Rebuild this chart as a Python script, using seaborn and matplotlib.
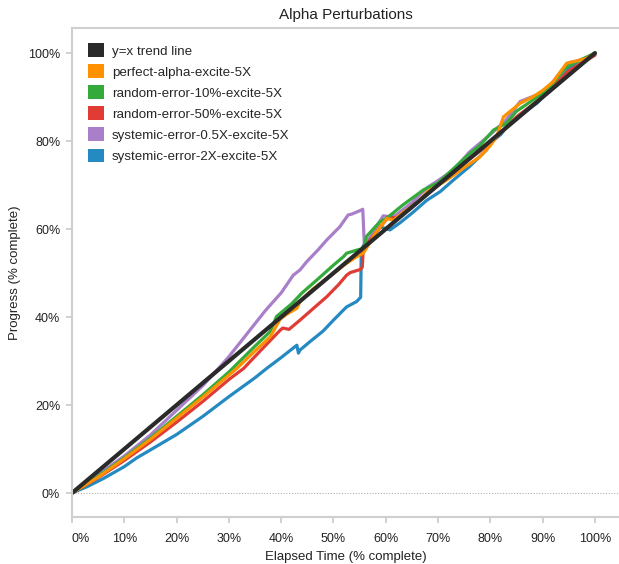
import pandas as pd
import seaborn as sns
import matplotlib.pyplot as plt
from matplotlib.patches import Patch

# Series (percent elapsed -> percent progress)
trend_x = [0, 100]
trend_y = [0, 100]

perfect_x = [0, 5, 10, 15, 20, 25, 30, 31.5, 35, 37.9, 39.8, 41, 43, 43.6, 46, 50, 52, 54.4,
             55.7, 57, 58, 60.2, 61.5, 63, 66, 68, 71.6, 75, 78, 80, 81.2, 82.5, 85.7, 88.2,
             90, 92, 94.6, 97.1, 98.4, 100]
perfect_y = [0, 3.6, 7.8, 12.2, 17.0, 21.8, 26.8, 28.3, 32.3, 35.5, 39.5, 40.6, 42.0, 43.5,
             46.3, 49.9, 51.8, 53.7, 54.5, 57, 59, 62.4, 62.0, 63.5, 66, 68.5, 71.1, 74, 76.4,
             79, 81, 85.5, 88.6, 90.1, 91.5, 93.5, 97.7, 98.4, 98.8, 99.9]

rand10_x = [0, 5, 10, 15, 20, 25, 30, 35, 37.9, 39.1, 42, 44, 46.8, 50, 51.9, 52.5, 54.4, 55.7,
            56.3, 58.9, 60, 63.3, 67.2, 70, 73, 76.1, 78, 80.6, 83, 85, 88, 91, 94.5, 97, 100]
rand10_y = [0, 3.8, 8.0, 12.5, 17.4, 22.3, 27.5, 33.4, 36.7, 40.1, 43, 45.5, 48.4, 51.8, 53.7,
            54.5, 55.2, 55.6, 58.3, 61.7, 62.3, 65.5, 68.9, 70.5, 73.8, 77.2, 79, 82.5, 84,
            86.8, 89.2, 91.8, 96.8, 98.3, 100]

rand50_x = [0, 5, 10, 15, 20, 25, 30, 32.8, 36, 39.8, 40.3, 41.5, 43.6, 46, 48.7, 51, 52.5,
            53.2, 55.1, 55.5, 55.7, 57, 59, 60.5, 62, 65, 70, 75, 80, 85, 90, 95, 100]
rand50_y = [0, 3.5, 7.4, 11.6, 16.1, 20.8, 25.8, 28.3, 32.3, 37.0, 37.5, 37.2, 39.3, 41.8,
            44.6, 47.4, 49.5, 50.1, 50.8, 51.3, 55.5, 57.5, 60.5, 62.8, 62.5, 65, 70, 75,
            79.5, 85.5, 90, 96, 99.5]

sys05_x = [0, 5, 10, 15, 20, 25, 28, 30, 34, 37, 40, 42.3, 43.6, 44.9, 47, 48.7, 51.2, 52.8,
           53.5, 55.1, 55.6, 55.9, 57, 58, 59.5, 60.8, 62, 65, 68, 70, 73, 76, 80, 83, 85.7,
           88.9, 91, 93, 95, 97, 98.5, 100]
sys05_y = [0, 4.2, 8.4, 13.2, 18.8, 24.4, 28.3, 31, 37, 41.5, 45.5, 49.5, 50.7, 52.6, 55.2,
           57.5, 60.5, 63.2, 63.4, 64.2, 64.5, 56.5, 58, 60, 63, 62.8, 63.2, 66, 69.5, 71,
           73.5, 77.5, 81.5, 84.8, 89, 90.5, 92, 95, 97.8, 98.3, 98.8, 99.8]

sys2_x = [0, 3, 6, 10, 12.4, 15, 20, 25, 30, 35, 37.2, 40, 43.0, 43.3, 43.6, 45.5, 48, 50,
          52.5, 54.4, 55.2, 55.3, 55.6, 57, 58.9, 60.8, 62.7, 65, 67.8, 70.4, 72.9, 76, 79.3,
          79.9, 82, 83.7, 86, 88.9, 91, 93, 95, 97, 100]
sys2_y = [0, 1.5, 3.3, 6.0, 8.0, 9.8, 13.3, 17.4, 21.9, 26.2, 28.3, 30.8, 33.6, 31.8, 32.5,
          34.4, 36.8, 39.3, 42.3, 43.5, 44.5, 53.7, 56.0, 58.0, 60.5, 59.8, 61.4, 63.6, 66.5,
          68.5, 71.1, 74.2, 78.0, 79.5, 81.5, 84.2, 86.2, 88.6, 91.2, 93.5, 96.5, 98.3, 99.7]

labels = ["y=x trend line", "perfect-alpha-excite-5X", "random-error-10%-excite-5X",
          "random-error-50%-excite-5X", "systemic-error-0.5X-excite-5X",
          "systemic-error-2X-excite-5X"]
colors = ["#2a2a2a", "#ff9100", "#33aa3a", "#e03c35", "#a87fc8", "#2589c2"]

series = [(labels[1], perfect_x, perfect_y), (labels[2], rand10_x, rand10_y),
          (labels[3], rand50_x, rand50_y), (labels[4], sys05_x, sys05_y),
          (labels[5], sys2_x, sys2_y)]
frames = []
for name, xs, ys in series:
    frames.append(pd.DataFrame({"elapsed": xs, "progress": ys, "series": name}))
df = pd.concat(frames, ignore_index=True)

sns.set_style("white")
plt.rcParams["font.family"] = ["Liberation Sans", "DejaVu Sans"]

fig = plt.figure(figsize=(6.19, 5.64), dpi=100)
ax = fig.add_axes([72 / 619, 47 / 564, 547 / 619, 489 / 564])

ax.axhline(0, color="#b0b0b0", linestyle=(0, (1, 1.5)), linewidth=0.8, zorder=1)

draw_order = labels[5:0:-1]
sns.lineplot(data=df, x="elapsed", y="progress", hue="series", hue_order=draw_order,
             palette=dict(zip(labels, colors)), sort=False, estimator=None,
             linewidth=2.3, legend=False, ax=ax)
sns.lineplot(x=trend_x, y=trend_y, color=colors[0], linewidth=3.0, ax=ax)

ax.set_xlim(0, 104.6)
ax.set_ylim(-5.45, 105.7)
ax.set_xticks(range(0, 101, 10))
ax.set_xticklabels([f"{v}%" for v in range(0, 101, 10)])
ax.set_yticks(range(0, 101, 20))
ax.set_yticklabels([f"{v}%" for v in range(0, 101, 20)])
ax.get_xticklabels()[0].set_horizontalalignment("left")

ax.tick_params(axis="both", labelsize=9, colors="#c8c8c8", labelcolor="#222222",
               length=4, width=1.2, bottom=True, left=True, top=False, right=False)
ax.tick_params(axis="x", pad=7.5)
ax.tick_params(axis="y", pad=4.5)
for side in ["left", "bottom", "top"]:
    ax.spines[side].set_color("#cfcfcf")
    ax.spines[side].set_linewidth(1.5)
ax.spines["right"].set_visible(False)

ax.set_title("Alpha Perturbations", fontsize=11, color="#222222", pad=6.5)
ax.set_xlabel("Elapsed Time (% complete)", fontsize=9.5, color="#222222", labelpad=4)
ax.set_ylabel("Progress (% complete)", fontsize=9.5, color="#222222", labelpad=5)

handles = [Patch(facecolor=c, edgecolor="none") for c in colors]
ax.legend(handles, labels, loc="upper left", bbox_to_anchor=(0.029, 0.969),
          frameon=False, fontsize=9.6, handlelength=1.22, handleheight=1.22,
          handletextpad=0.6, labelspacing=0.5, borderpad=0, borderaxespad=0)

fig.savefig("out.png", dpi=100)
